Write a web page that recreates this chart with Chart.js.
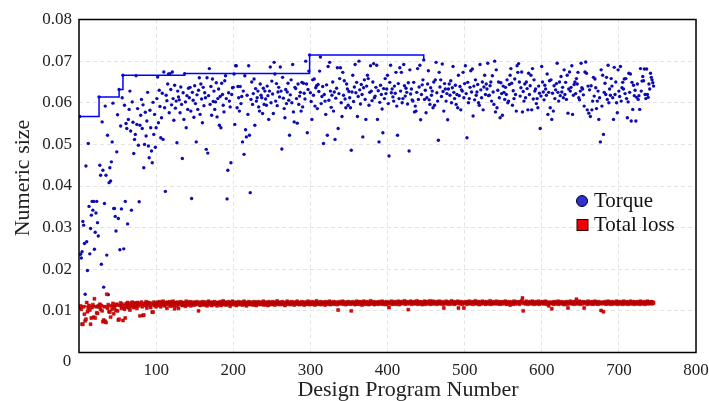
<!DOCTYPE html>
<html>
<head>
<meta charset="utf-8">
<script src="https://cdn.jsdelivr.net/npm/chart.js@4/dist/chart.umd.min.js"></script>
<style>
  body { margin: 0; background: #fff; }
  #wrap { width: 709px; height: 401px; position: relative; }
</style>
</head>
<body>
<div id="wrap"><canvas id="chart"></canvas></div>
<script>
// torque of each design program (design number = index + 1)
var torque = [
  0.0567, 0.0236, 0.0227, 0.0242, 0.0315, 0.0306, 0.0262, 0.0140, 0.0448, 0.0266,
  0.0197, 0.0502, 0.0351, 0.0237, 0.0298, 0.0330, 0.0363, 0.0342, 0.0363, 0.0248,
  0.0289, 0.0335, 0.0363, 0.0312, 0.0280, 0.0614, 0.0450, 0.0426, 0.0212, 0.0554,
  0.0438, 0.0157, 0.0358, 0.0592, 0.0426, 0.0234, 0.0522, 0.0139, 0.0408, 0.0444,
  0.0412, 0.0458, 0.0506, 0.0599, 0.0346, 0.0346, 0.0327, 0.0292, 0.0482, 0.0571,
  0.0322, 0.0632, 0.0247, 0.0544, 0.0345, 0.0612, 0.0666, 0.0249, 0.0594, 0.0363,
  0.0550, 0.0538, 0.0309, 0.0560, 0.0584, 0.0628, 0.0532, 0.0342, 0.0602, 0.0553,
  0.0478, 0.0512, 0.0524, 0.0665, 0.0548, 0.0586, 0.0498, 0.0362, 0.0546, 0.0570,
  0.0608, 0.0538, 0.0595, 0.0444, 0.0500, 0.0577, 0.0520, 0.0556, 0.0625, 0.0496,
  0.0468, 0.0582, 0.0540, 0.0484, 0.0456, 0.0601, 0.0524, 0.0572, 0.0493, 0.0540,
  0.0610, 0.0662, 0.0552, 0.0630, 0.0591, 0.0516, 0.0564, 0.0623, 0.0512, 0.0674,
  0.0588, 0.0387, 0.0618, 0.0605, 0.0645, 0.0669, 0.0576, 0.0670, 0.0632, 0.0595,
  0.0674, 0.0610, 0.0558, 0.0642, 0.0587, 0.0604, 0.0504, 0.0628, 0.0614, 0.0607,
  0.0576, 0.0638, 0.0596, 0.0466, 0.0624, 0.0560, 0.0670, 0.0602, 0.0540, 0.0617,
  0.0584, 0.0635, 0.0612, 0.0637, 0.0580, 0.0370, 0.0625, 0.0606, 0.0565, 0.0641,
  0.0598, 0.0506, 0.0619, 0.0584, 0.0630, 0.0660, 0.0572, 0.0645, 0.0609, 0.0552,
  0.0637, 0.0593, 0.0624, 0.0612, 0.0488, 0.0660, 0.0479, 0.0617, 0.0682, 0.0596,
  0.0639, 0.0570, 0.0657, 0.0603, 0.0628, 0.0584, 0.0602, 0.0648, 0.0566, 0.0610,
  0.0633, 0.0546, 0.0615, 0.0540, 0.0647, 0.0620, 0.0594, 0.0578, 0.0653, 0.0665,
  0.0610, 0.0369, 0.0438, 0.0624, 0.0604, 0.0590, 0.0456, 0.0620, 0.0636, 0.0637,
  0.0669, 0.0548, 0.0689, 0.0689, 0.0588, 0.0639, 0.0612, 0.0580, 0.0639, 0.0598,
  0.0615, 0.0506, 0.0628, 0.0476, 0.0665, 0.0535, 0.0518, 0.0618, 0.0572, 0.0689,
  0.0522, 0.0384, 0.0608, 0.0650, 0.0596, 0.0622, 0.0657, 0.0546, 0.0634, 0.0604,
  0.0612, 0.0628, 0.0590, 0.0580, 0.0645, 0.0618, 0.0612, 0.0574, 0.0635, 0.0596,
  0.0628, 0.0609, 0.0594, 0.0640, 0.0617, 0.0560, 0.0628, 0.0686, 0.0600, 0.0652,
  0.0621, 0.0574, 0.0697, 0.0669, 0.0604, 0.0646, 0.0593, 0.0626, 0.0637, 0.0614,
  0.0686, 0.0628, 0.0489, 0.0661, 0.0611, 0.0586, 0.0564, 0.0632, 0.0598, 0.0626,
  0.0647, 0.0606, 0.0522, 0.0619, 0.0655, 0.0600, 0.0692, 0.0578, 0.0554, 0.0637,
  0.0634, 0.0610, 0.0551, 0.0645, 0.0596, 0.0616, 0.0625, 0.0580, 0.0649, 0.0590,
  0.0647, 0.0623, 0.0609, 0.0700, 0.0645, 0.0528, 0.0632, 0.0676, 0.0715, 0.0624,
  0.0603, 0.0560, 0.0655, 0.0618, 0.0657, 0.0592, 0.0636, 0.0641, 0.0586, 0.0644,
  0.0627, 0.0676, 0.0710, 0.0598, 0.0615, 0.0639, 0.0502, 0.0620, 0.0604, 0.0572,
  0.0643, 0.0522, 0.0687, 0.0606, 0.0697, 0.0628, 0.0589, 0.0618, 0.0650, 0.0580,
  0.0626, 0.0512, 0.0611, 0.0635, 0.0684, 0.0538, 0.0622, 0.0658, 0.0684, 0.0600,
  0.0567, 0.0673, 0.0618, 0.0653, 0.0609, 0.0588, 0.0645, 0.0633, 0.0594, 0.0627,
  0.0612, 0.0588, 0.0486, 0.0626, 0.0666, 0.0603, 0.0638, 0.0692, 0.0624, 0.0649,
  0.0567, 0.0615, 0.0700, 0.0631, 0.0597, 0.0644, 0.0620, 0.0518, 0.0636, 0.0655,
  0.0608, 0.0560, 0.0640, 0.0666, 0.0658, 0.0594, 0.0625, 0.0689, 0.0628, 0.0605,
  0.0650, 0.0694, 0.0612, 0.0616, 0.0637, 0.0690, 0.0560, 0.0629, 0.0506, 0.0601,
  0.0642, 0.0620, 0.0585, 0.0528, 0.0634, 0.0610, 0.0658, 0.0622, 0.0633, 0.0666,
  0.0598, 0.0472, 0.0649, 0.0690, 0.0624, 0.0633, 0.0614, 0.0604, 0.0640, 0.0623,
  0.0673, 0.0592, 0.0522, 0.0646, 0.0610, 0.0684, 0.0628, 0.0673, 0.0600, 0.0610,
  0.0692, 0.0641, 0.0616, 0.0635, 0.0625, 0.0597, 0.0648, 0.0484, 0.0679, 0.0621,
  0.0633, 0.0607, 0.0604, 0.0649, 0.0578, 0.0592, 0.0580, 0.0625, 0.0682, 0.0608,
  0.0638, 0.0690, 0.0559, 0.0620, 0.0643, 0.0655, 0.0703, 0.0608, 0.0630, 0.0576,
  0.0612, 0.0645, 0.0677, 0.0607, 0.0596, 0.0636, 0.0618, 0.0628, 0.0588, 0.0650,
  0.0594, 0.0655, 0.0697, 0.0624, 0.0604, 0.0510, 0.0673, 0.0638, 0.0655, 0.0615,
  0.0693, 0.0627, 0.0580, 0.0646, 0.0633, 0.0604, 0.0622, 0.0559, 0.0633, 0.0645,
  0.0618, 0.0653, 0.0600, 0.0636, 0.0687, 0.0625, 0.0610, 0.0642, 0.0596, 0.0620,
  0.0588, 0.0666, 0.0617, 0.0639, 0.0583, 0.0631, 0.0628, 0.0673, 0.0612, 0.0646,
  0.0689, 0.0622, 0.0516, 0.0649, 0.0600, 0.0610, 0.0637, 0.0677, 0.0626, 0.0681,
  0.0568, 0.0640, 0.0607, 0.0655, 0.0618, 0.0626, 0.0644, 0.0600, 0.0594, 0.0692,
  0.0631, 0.0612, 0.0650, 0.0583, 0.0638, 0.0666, 0.0620, 0.0645, 0.0633, 0.0695,
  0.0617, 0.0618, 0.0641, 0.0650, 0.0604, 0.0665, 0.0626, 0.0596, 0.0700, 0.0578,
  0.0679, 0.0588, 0.0630, 0.0650, 0.0612, 0.0564, 0.0648, 0.0622, 0.0570, 0.0640,
  0.0625, 0.0608, 0.0637, 0.0620, 0.0655, 0.0600, 0.0604, 0.0644, 0.0666, 0.0682,
  0.0647, 0.0594, 0.0629, 0.0610, 0.0657, 0.0620, 0.0580, 0.0689, 0.0673, 0.0694,
  0.0650, 0.0616, 0.0636, 0.0674, 0.0578, 0.0627, 0.0604, 0.0645, 0.0612, 0.0650,
  0.0634, 0.0583, 0.0671, 0.0620, 0.0641, 0.0666, 0.0583, 0.0682, 0.0609, 0.0655,
  0.0628, 0.0633, 0.0598, 0.0610, 0.0588, 0.0640, 0.0623, 0.0538, 0.0616, 0.0687,
  0.0650, 0.0626, 0.0607, 0.0642, 0.0633, 0.0618, 0.0669, 0.0572, 0.0625, 0.0653,
  0.0588, 0.0655, 0.0560, 0.0623, 0.0580, 0.0641, 0.0610, 0.0631, 0.0646, 0.0695,
  0.0625, 0.0604, 0.0650, 0.0617, 0.0663, 0.0626, 0.0637, 0.0612, 0.0679, 0.0620,
  0.0649, 0.0608, 0.0666, 0.0575, 0.0633, 0.0674, 0.0628, 0.0637, 0.0689, 0.0572,
  0.0618, 0.0644, 0.0650, 0.0622, 0.0658, 0.0645, 0.0673, 0.0612, 0.0607, 0.0628,
  0.0695, 0.0636, 0.0633, 0.0619, 0.0592, 0.0674, 0.0698, 0.0671, 0.0583, 0.0640,
  0.0575, 0.0631, 0.0567, 0.0641, 0.0583, 0.0604, 0.0661, 0.0616, 0.0657, 0.0636,
  0.0586, 0.0604, 0.0628, 0.0560, 0.0612, 0.0506, 0.0679, 0.0592, 0.0666, 0.0524,
  0.0625, 0.0647, 0.0620, 0.0661, 0.0608, 0.0690, 0.0600, 0.0633, 0.0618, 0.0658,
  0.0640, 0.0612, 0.0560, 0.0685, 0.0620, 0.0650, 0.0600, 0.0576, 0.0679, 0.0628,
  0.0615, 0.0687, 0.0604, 0.0636, 0.0649, 0.0633, 0.0657, 0.0622, 0.0658, 0.0610,
  0.0564, 0.0602, 0.0671, 0.0625, 0.0669, 0.0556, 0.0649, 0.0584, 0.0642, 0.0617,
  0.0630, 0.0556, 0.0613, 0.0645, 0.0608, 0.0617, 0.0584, 0.0682, 0.0628, 0.0652,
  0.0663, 0.0653, 0.0681, 0.0620, 0.0610, 0.0681, 0.0620, 0.0613, 0.0645, 0.0633,
  0.0671, 0.0661, 0.0655, 0.0648, 0.0640
];

// total loss of each design program
var totalLoss = [
  0.0108, 0.0112, 0.0104, 0.0068, 0.0068, 0.0110, 0.0092, 0.0076, 0.0080, 0.0120,
  0.0098, 0.0106, 0.0113, 0.0102, 0.0068, 0.0083, 0.0108, 0.0115, 0.0085, 0.0129,
  0.0083, 0.0110, 0.0095, 0.0094, 0.0112, 0.0109, 0.0116, 0.0104, 0.0113, 0.0100,
  0.0074, 0.0078, 0.0110, 0.0075, 0.0072, 0.0140, 0.0106, 0.0115, 0.0098, 0.0097,
  0.0085, 0.0112, 0.0104, 0.0118, 0.0093, 0.0108, 0.0114, 0.0101, 0.0116, 0.0100,
  0.0078, 0.0080, 0.0113, 0.0119, 0.0106, 0.0116, 0.0077, 0.0110, 0.0104, 0.0083,
  0.0117, 0.0109, 0.0120, 0.0112, 0.0106, 0.0102, 0.0118, 0.0111, 0.0121, 0.0114,
  0.0108, 0.0119, 0.0113, 0.0116, 0.0106, 0.0120, 0.0112, 0.0117, 0.0088, 0.0115,
  0.0121, 0.0110, 0.0089, 0.0090, 0.0118, 0.0113, 0.0122, 0.0107, 0.0117, 0.0120,
  0.0114, 0.0119, 0.0108, 0.0116, 0.0097, 0.0097, 0.0121, 0.0113, 0.0118, 0.0110,
  0.0118, 0.0121, 0.0113, 0.0116, 0.0122, 0.0110, 0.0119, 0.0115, 0.0123, 0.0117,
  0.0112, 0.0120, 0.0116, 0.0106, 0.0121, 0.0118, 0.0114, 0.0122, 0.0111, 0.0119,
  0.0116, 0.0123, 0.0113, 0.0105, 0.0120, 0.0117, 0.0112, 0.0121, 0.0106, 0.0118,
  0.0115, 0.0122, 0.0119, 0.0113, 0.0120, 0.0116, 0.0118, 0.0111, 0.0123, 0.0117,
  0.0114, 0.0120, 0.0117, 0.0122, 0.0112, 0.0119, 0.0116, 0.0121, 0.0114, 0.0118,
  0.0120, 0.0115, 0.0122, 0.0117, 0.0100, 0.0119, 0.0113, 0.0121, 0.0116, 0.0118,
  0.0122, 0.0114, 0.0119, 0.0116, 0.0121, 0.0112, 0.0118, 0.0123, 0.0115, 0.0120,
  0.0117, 0.0113, 0.0121, 0.0118, 0.0115, 0.0122, 0.0116, 0.0119, 0.0112, 0.0120,
  0.0119, 0.0116, 0.0122, 0.0113, 0.0120, 0.0117, 0.0124, 0.0115, 0.0118, 0.0121,
  0.0114, 0.0119, 0.0116, 0.0122, 0.0118, 0.0111, 0.0120, 0.0117, 0.0123, 0.0115,
  0.0118, 0.0121, 0.0116, 0.0113, 0.0120, 0.0118, 0.0122, 0.0115, 0.0119, 0.0117,
  0.0121, 0.0114, 0.0118, 0.0123, 0.0116, 0.0119, 0.0112, 0.0120, 0.0117, 0.0122,
  0.0115, 0.0119, 0.0121, 0.0116, 0.0118, 0.0114, 0.0122, 0.0117, 0.0120, 0.0113,
  0.0119, 0.0122, 0.0116, 0.0118, 0.0121, 0.0115, 0.0120, 0.0117, 0.0123, 0.0114,
  0.0118, 0.0121, 0.0116, 0.0119, 0.0113, 0.0122, 0.0117, 0.0120, 0.0115, 0.0118,
  0.0122, 0.0116, 0.0119, 0.0114, 0.0121, 0.0118, 0.0124, 0.0116, 0.0120, 0.0117,
  0.0115, 0.0121, 0.0118, 0.0122, 0.0116, 0.0119, 0.0113, 0.0120, 0.0117, 0.0123,
  0.0116, 0.0119, 0.0121, 0.0115, 0.0118, 0.0122, 0.0117, 0.0120, 0.0114, 0.0119,
  0.0121, 0.0117, 0.0123, 0.0116, 0.0119, 0.0115, 0.0120, 0.0118, 0.0122, 0.0116,
  0.0119, 0.0114, 0.0121, 0.0117, 0.0120, 0.0116, 0.0123, 0.0118, 0.0115, 0.0120,
  0.0117, 0.0122, 0.0116, 0.0119, 0.0121, 0.0114, 0.0118, 0.0124, 0.0117, 0.0120,
  0.0116, 0.0119, 0.0122, 0.0115, 0.0120, 0.0117, 0.0121, 0.0118, 0.0114, 0.0122,
  0.0119, 0.0116, 0.0121, 0.0118, 0.0123, 0.0115, 0.0120, 0.0117, 0.0119, 0.0122,
  0.0116, 0.0120, 0.0118, 0.0121, 0.0115, 0.0102, 0.0119, 0.0122, 0.0117, 0.0120,
  0.0118, 0.0123, 0.0116, 0.0119, 0.0121, 0.0115, 0.0120, 0.0117, 0.0122, 0.0118,
  0.0121, 0.0116, 0.0100, 0.0119, 0.0122, 0.0117, 0.0120, 0.0115, 0.0118, 0.0123,
  0.0117, 0.0120, 0.0116, 0.0122, 0.0118, 0.0121, 0.0114, 0.0119, 0.0123, 0.0117,
  0.0120, 0.0116, 0.0122, 0.0118, 0.0121, 0.0115, 0.0119, 0.0124, 0.0117, 0.0120,
  0.0118, 0.0122, 0.0115, 0.0120, 0.0117, 0.0121, 0.0119, 0.0116, 0.0122, 0.0118,
  0.0120, 0.0117, 0.0123, 0.0116, 0.0119, 0.0121, 0.0118, 0.0115, 0.0122, 0.0119,
  0.0117, 0.0108, 0.0121, 0.0118, 0.0123, 0.0116, 0.0120, 0.0117, 0.0122, 0.0119,
  0.0116, 0.0121, 0.0118, 0.0123, 0.0115, 0.0120, 0.0117, 0.0122, 0.0119, 0.0121,
  0.0118, 0.0124, 0.0116, 0.0120, 0.0122, 0.0117, 0.0103, 0.0121, 0.0118, 0.0123,
  0.0116, 0.0120, 0.0118, 0.0122, 0.0117, 0.0121, 0.0119, 0.0124, 0.0116, 0.0120,
  0.0118, 0.0122, 0.0117, 0.0121, 0.0115, 0.0120, 0.0118, 0.0123, 0.0116, 0.0121,
  0.0119, 0.0122, 0.0117, 0.0120, 0.0124, 0.0116, 0.0121, 0.0118, 0.0123, 0.0117,
  0.0120, 0.0118, 0.0122, 0.0116, 0.0121, 0.0119, 0.0123, 0.0117, 0.0120, 0.0118,
  0.0122, 0.0116, 0.0107, 0.0120, 0.0118, 0.0123, 0.0117, 0.0121, 0.0119, 0.0116,
  0.0121, 0.0118, 0.0124, 0.0117, 0.0120, 0.0122, 0.0116, 0.0119, 0.0121, 0.0118,
  0.0123, 0.0107, 0.0120, 0.0117, 0.0122, 0.0119, 0.0116, 0.0121, 0.0107, 0.0120,
  0.0118, 0.0122, 0.0116, 0.0121, 0.0119, 0.0123, 0.0117, 0.0120, 0.0118, 0.0122,
  0.0116, 0.0121, 0.0119, 0.0124, 0.0117, 0.0120, 0.0118, 0.0122, 0.0115, 0.0121,
  0.0119, 0.0117, 0.0123, 0.0120, 0.0118, 0.0121, 0.0116, 0.0122, 0.0119, 0.0117,
  0.0121, 0.0118, 0.0124, 0.0116, 0.0120, 0.0122, 0.0117, 0.0119, 0.0121, 0.0118,
  0.0123, 0.0117, 0.0120, 0.0118, 0.0122, 0.0116, 0.0121, 0.0119, 0.0117, 0.0122,
  0.0120, 0.0118, 0.0123, 0.0116, 0.0121, 0.0119, 0.0117, 0.0122, 0.0114, 0.0120,
  0.0118, 0.0121, 0.0116, 0.0123, 0.0119, 0.0117, 0.0122, 0.0120, 0.0118, 0.0121,
  0.0116, 0.0122, 0.0119, 0.0124, 0.0131, 0.0100, 0.0118, 0.0121, 0.0117, 0.0123,
  0.0119, 0.0116, 0.0121, 0.0118, 0.0122, 0.0120, 0.0117, 0.0123, 0.0119, 0.0116,
  0.0121, 0.0118, 0.0122, 0.0117, 0.0120, 0.0123, 0.0116, 0.0119, 0.0121, 0.0118,
  0.0122, 0.0117, 0.0120, 0.0118, 0.0123, 0.0116, 0.0121, 0.0119, 0.0112, 0.0120,
  0.0118, 0.0121, 0.0105, 0.0119, 0.0116, 0.0122, 0.0120, 0.0117, 0.0121, 0.0118,
  0.0123, 0.0116, 0.0120, 0.0118, 0.0122, 0.0119, 0.0117, 0.0121, 0.0115, 0.0120,
  0.0118, 0.0122, 0.0116, 0.0107, 0.0121, 0.0119, 0.0123, 0.0117, 0.0120, 0.0118,
  0.0122, 0.0116, 0.0121, 0.0119, 0.0128, 0.0117, 0.0120, 0.0118, 0.0123, 0.0116,
  0.0121, 0.0119, 0.0117, 0.0122, 0.0107, 0.0120, 0.0118, 0.0121, 0.0116, 0.0123,
  0.0119, 0.0117, 0.0121, 0.0118, 0.0122, 0.0116, 0.0120, 0.0118, 0.0123, 0.0117,
  0.0121, 0.0119, 0.0116, 0.0122, 0.0118, 0.0120, 0.0101, 0.0117, 0.0121, 0.0098,
  0.0119, 0.0122, 0.0116, 0.0120, 0.0118, 0.0123, 0.0117, 0.0121, 0.0119, 0.0116,
  0.0122, 0.0118, 0.0120, 0.0117, 0.0121, 0.0119, 0.0123, 0.0116, 0.0120, 0.0118,
  0.0122, 0.0117, 0.0121, 0.0119, 0.0116, 0.0123, 0.0118, 0.0120, 0.0117, 0.0122,
  0.0119, 0.0116, 0.0121, 0.0118, 0.0123, 0.0117, 0.0120, 0.0118, 0.0122, 0.0116,
  0.0121, 0.0119, 0.0117, 0.0122, 0.0118, 0.0120, 0.0116, 0.0123, 0.0119, 0.0117,
  0.0121, 0.0118, 0.0122, 0.0116, 0.0120, 0.0119, 0.0123, 0.0117, 0.0121, 0.0118,
  0.0120, 0.0122, 0.0117, 0.0121, 0.0119
];

// best-so-far history (design number where the best changes)
var bestDesign = [1, 26, 52, 57, 137, 299, 447, 447];
var bestTorque = [0.0567, 0.0614, 0.0632, 0.0666, 0.0670, 0.0715, 0.0715, 0.0703];
var bestLoss = [0.0111, 0.0112, 0.0113, 0.0115, 0.0116, 0.0117, 0.0117, 0.0117];

var xTicks = [0, 100, 200, 300, 400, 500, 600, 700, 800];
var yTicks = [0, 0.01, 0.02, 0.03, 0.04, 0.05, 0.06, 0.07, 0.08];

var seriesNames = ['Torque', 'Total loss'];
var xTitle = 'Design Program Number';
var yTitle = 'Numeric size';

var FONT = "'Palatino Linotype', 'Book Antiqua', Palatino, 'Liberation Serif', 'DejaVu Serif', serif";

function toPoints(values) {
    return values.map(function (v, i) { return { x: i + 1, y: v }; });
}
function toStep(xs, ys) {
    return xs.map(function (x, i) { return { x: x, y: ys[i] }; });
}

// frame, axis titles, origin label and legend
var decorations = {
    id: 'decorations',
    afterDraw: function (chart) {
        var ctx = chart.ctx;
        var a = chart.chartArea;
        ctx.save();
        ctx.strokeStyle = '#000';
        ctx.lineWidth = 1.5;
        ctx.strokeRect(a.left, a.top, a.right - a.left, a.bottom - a.top);

        ctx.fillStyle = '#222';
        ctx.font = '17px ' + FONT;
        ctx.textAlign = 'center';
        ctx.textBaseline = 'middle';
        ctx.fillText('0', 67, 362);

        ctx.font = '22px ' + FONT;
        ctx.fillText(xTitle, 408, 390);
        ctx.translate(23, 178);
        ctx.rotate(-Math.PI / 2);
        ctx.fillText(yTitle, 0, 0);
        ctx.restore();

        ctx.save();
        var t = chart.data.datasets[0];
        var l = chart.data.datasets[1];
        ctx.lineWidth = 1;
        ctx.beginPath();
        ctx.arc(582, 201, 5.5, 0, Math.PI * 2);
        ctx.fillStyle = '#3030cc';
        ctx.fill();
        ctx.strokeStyle = '#000020';
        ctx.stroke();
        ctx.fillStyle = '#ee0000';
        ctx.fillRect(577, 219.5, 11, 11);
        ctx.strokeStyle = '#300000';
        ctx.strokeRect(577, 219.5, 11, 11);
        ctx.fillStyle = '#111';
        ctx.font = '21px ' + FONT;
        ctx.textAlign = 'left';
        ctx.textBaseline = 'middle';
        ctx.fillText(t.label, 594, 201);
        ctx.fillText(l.label, 594, 225);
        ctx.restore();
    }
};

var ctx = document.getElementById('chart').getContext('2d');
var chart = new Chart(ctx, {
    type: 'scatter',
    data: {
        datasets: [{
            label: seriesNames[0],
            data: toPoints(torque),
            backgroundColor: '#0c0cb0',
            borderWidth: 0,
            pointRadius: 1.7,
            order: 3
        }, {
            label: seriesNames[1],
            data: toPoints(totalLoss),
            pointStyle: 'rect',
            backgroundColor: '#f00000',
            borderColor: '#8a0000',
            borderWidth: 0.5,
            pointRadius: 2.1,
            order: 2
        }, {
            type: 'line',
            label: 'best torque',
            data: toStep(bestDesign, bestTorque),
            borderColor: '#0000ff',
            borderWidth: 1.5,
            stepped: 'before',
            pointRadius: 0,
            fill: false,
            order: 1
        }, {
            type: 'line',
            label: 'best loss',
            data: toStep(bestDesign, bestLoss),
            borderColor: '#ff0000',
            borderWidth: 1.5,
            stepped: 'before',
            pointRadius: 0,
            fill: false,
            order: 4
        }]
    },
    options: {
        responsive: true,
        maintainAspectRatio: false,
        animation: false,
        layout: { padding: { top: 19.5, right: 13, left: 0, bottom: 0 } },
        plugins: {
            legend: { display: false },
            tooltip: { enabled: false }
        },
        scales: {
            x: {
                type: 'linear',
                min: 0,
                max: 800,
                afterBuildTicks: function (s) { s.ticks = xTicks.map(function (v) { return { value: v }; }); },
                afterFit: function (s) { s.height = 48.5; s.paddingLeft = 0; s.paddingRight = 0; },
                border: { display: false, dash: [4, 3] },
                grid: { color: '#e4e4e4', lineWidth: 1, drawTicks: false },
                ticks: {
                    padding: 8,
                    color: '#222',
                    font: { family: FONT, size: 17 },
                    callback: function (v) { return v === 0 ? '' : v; }
                }
            },
            y: {
                min: 0,
                max: 0.08,
                afterBuildTicks: function (s) { s.ticks = yTicks.map(function (v) { return { value: v }; }); },
                afterFit: function (s) { s.width = 79; s.paddingTop = 0; s.paddingBottom = 0; },
                border: { display: false, dash: [4, 3] },
                grid: { color: '#e4e4e4', lineWidth: 1, drawTicks: false },
                ticks: {
                    padding: 7,
                    color: '#222',
                    font: { family: FONT, size: 17 },
                    callback: function (v) { return v === 0 ? '' : v.toFixed(2); }
                }
            }
        }
    },
    plugins: [decorations]
});
</script>
</body>
</html>
